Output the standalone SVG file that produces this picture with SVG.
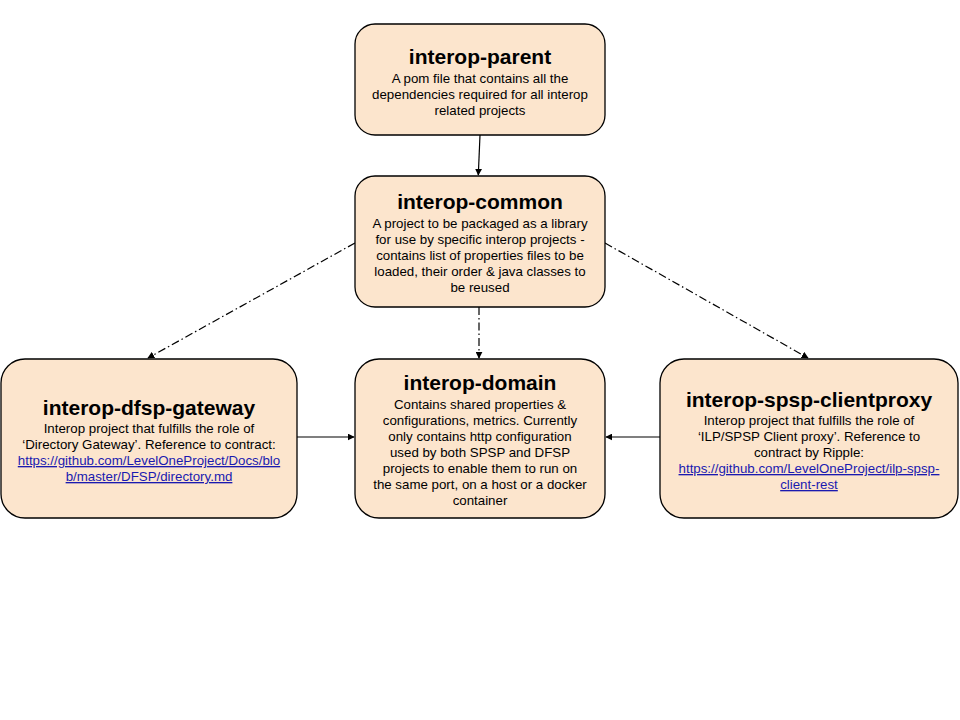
<svg xmlns="http://www.w3.org/2000/svg" width="960" height="720" viewBox="0 0 960 720">
<defs>
<style>
.box{fill:#fce5cd;stroke:#000;stroke-width:1.3}
.title{font-family:"Liberation Sans",Arial,sans-serif;font-size:21px;font-weight:bold;fill:#000;text-anchor:middle}
.body{font-family:"Liberation Sans",Arial,sans-serif;font-size:13.3px;fill:#000;text-anchor:middle}
.link{fill:#1a1ab0;text-decoration:underline}
.conn{stroke:#000;stroke-width:1.2;fill:none}
.dash{stroke-dasharray:8,3,1.5,3}
</style>
<marker id="arr" viewBox="0 0 10 10" refX="9" refY="5" markerWidth="7" markerHeight="7" markerUnits="userSpaceOnUse" orient="auto">
<path d="M0,0 L10,5 L0,10 z" fill="#000"/>
</marker>
</defs>
<rect width="960" height="720" fill="#fff"/>
<g id="connectors">
<line class="conn" x1="480" y1="135" x2="478.3" y2="175" marker-end="url(#arr)"/>
<line class="conn dash" x1="479" y1="307" x2="479" y2="358" marker-end="url(#arr)"/>
<line class="conn dash" x1="355" y1="243" x2="148" y2="358" marker-end="url(#arr)"/>
<line class="conn dash" x1="605" y1="243" x2="808" y2="358" marker-end="url(#arr)"/>
<line class="conn" x1="297" y1="437" x2="354" y2="437" marker-end="url(#arr)"/>
<line class="conn" x1="660" y1="437" x2="606" y2="437" marker-end="url(#arr)"/>
</g>
<g id="interop-parent">
<rect class="box" x="355" y="24" width="250" height="111" rx="20"/>
<text class="title" x="480" y="64">interop-parent</text>
<text class="body" x="480" y="83">A pom file that contains all the</text>
<text class="body" x="480" y="99">dependencies required for all interop</text>
<text class="body" x="480" y="115">related projects</text>
</g>
<g id="interop-common">
<rect class="box" x="355" y="176" width="250" height="131" rx="20"/>
<text class="title" x="480" y="209">interop-common</text>
<text class="body" x="480" y="228">A project to be packaged as a library</text>
<text class="body" x="480" y="244">for use by specific interop projects -</text>
<text class="body" x="480" y="260">contains list of properties files to be</text>
<text class="body" x="480" y="276">loaded, their order &amp; java classes to</text>
<text class="body" x="480" y="292">be reused</text>
</g>
<g id="interop-dfsp-gateway">
<rect class="box" x="1" y="359" width="296" height="159" rx="24"/>
<text class="title" x="149" y="415">interop-dfsp-gateway</text>
<text class="body" x="149" y="433">Interop project that fulfills the role of</text>
<text class="body" x="149" y="449">‘Directory Gateway’. Reference to contract:</text>
<text class="body link" x="149" y="465">https://github.com/LevelOneProject/Docs/blo</text>
<text class="body link" x="149" y="481">b/master/DFSP/directory.md</text>
</g>
<g id="interop-domain">
<rect class="box" x="355" y="359" width="250" height="159" rx="24"/>
<text class="title" x="480" y="390">interop-domain</text>
<text class="body" x="480" y="409">Contains shared properties &amp;</text>
<text class="body" x="480" y="425">configurations, metrics. Currently</text>
<text class="body" x="480" y="441">only contains http configuration</text>
<text class="body" x="480" y="457">used by both SPSP and DFSP</text>
<text class="body" x="480" y="473">projects to enable them to run on</text>
<text class="body" x="480" y="489">the same port, on a host or a docker</text>
<text class="body" x="480" y="505">container</text>
</g>
<g id="interop-spsp-clientproxy">
<rect class="box" x="660" y="359" width="298" height="159" rx="24"/>
<text class="title" x="809" y="407">interop-spsp-clientproxy</text>
<text class="body" x="809" y="425">Interop project that fulfills the role of</text>
<text class="body" x="809" y="441">‘ILP/SPSP Client proxy’. Reference to</text>
<text class="body" x="809" y="457">contract by Ripple:</text>
<text class="body link" x="809" y="473">https://github.com/LevelOneProject/ilp-spsp-</text>
<text class="body link" x="809" y="489">client-rest</text>
</g>
</svg>
